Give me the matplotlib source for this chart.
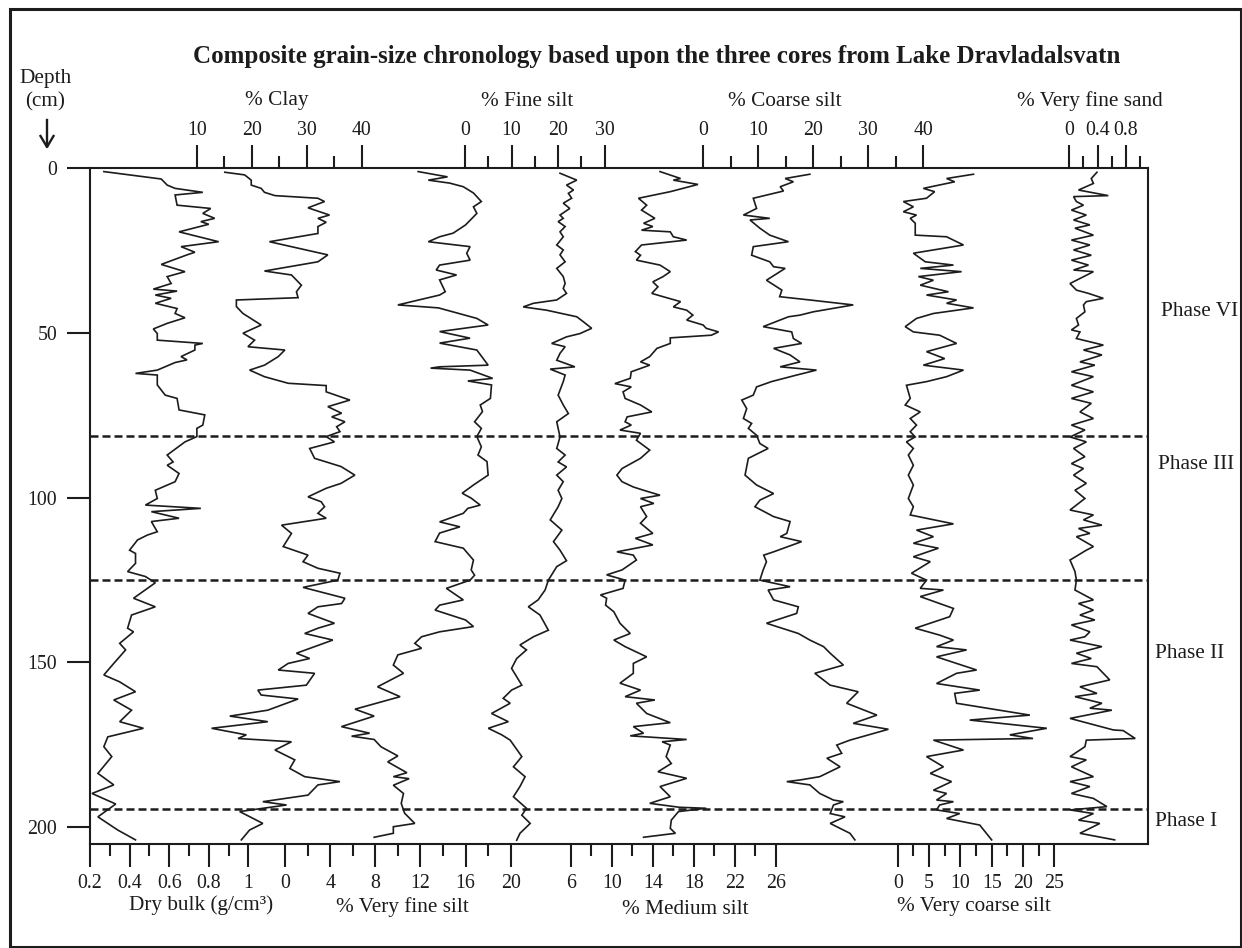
import matplotlib
matplotlib.use("Agg")
import matplotlib.pyplot as plt
from matplotlib.patches import Rectangle

plt.rcParams['font.family'] = ['Liberation Serif', 'DejaVu Serif']

# ---------------- data (depth in cm, values in series units) ----------------
bulk_depth = [1.0,3.25,5.1,6.1,7.3,8.1,11.2,12.2,13.7,15.2,16.2,17.0,19.3,22.3,23.8,25.5,26.3,29.2,31.4,32.9,
              35.0,36.7,37.3,38.5,39.5,41.0,42.6,44.1,45.4,47.1,48.8,50.2,52.2,53.2,53.7,55.2,57.2,58.2,59.0,61.3,
              62.3,62.8,65.8,68.9,69.9,73.4,74.9,78.0,79.0,81.5,83.1,87.1,89.2,90.2,92.7,95.2,97.8,100.3,102.3,103.3,
              104.3,106.3,107.3,110.4,111.4,112.9,116.0,117.0,120.0,122.5,124.0,125.9,130.6,133.2,135.7,139.7,140.8,
              144.3,146.3,150.4,153.9,156.0,159.0,161.5,164.6,168.1,170.1,172.7,175.7,178.7,183.8,187.3,189.9,193.1,
              197.0,201.0,204.0]
bulk_val = [0.27,0.56,0.59,0.63,0.77,0.63,0.64,0.81,0.77,0.83,0.76,0.80,0.65,0.85,0.66,0.73,0.69,0.56,0.68,0.59,
            0.61,0.52,0.64,0.53,0.61,0.53,0.64,0.63,0.68,0.59,0.52,0.54,0.54,0.77,0.73,0.73,0.66,0.69,0.63,0.54,
            0.43,0.54,0.54,0.58,0.64,0.65,0.78,0.77,0.74,0.74,0.68,0.59,0.62,0.59,0.65,0.63,0.53,0.54,0.48,0.76,
            0.51,0.65,0.51,0.54,0.49,0.44,0.40,0.43,0.43,0.39,0.48,0.53,0.42,0.53,0.41,0.39,0.42,
            0.35,0.38,0.32,0.27,0.35,0.43,0.32,0.41,0.35,0.47,0.29,0.27,0.31,0.24,0.32,0.21,0.33,
            0.24,0.34,0.43]

clay_depth = [1.2,2.0,3.6,5.1,6.1,7.3,8.3,9.1,10.1,12.0,14.2,15.2,16.4,17.7,19.8,22.3,26.3,28.4,31.2,32.4,35.5,
              37.5,39.3,40.0,42.0,44.1,47.6,50.1,52.2,54.2,55.2,57.2,59.8,61.3,63.3,65.3,66.0,67.9,70.4,72.4,74.4,
              75.5,77.0,78.5,80.0,81.5,83.1,85.1,88.1,90.6,93.2,95.7,97.2,99.8,101.3,102.8,104.8,106.3,108.4,110.9,
              114.9,117.5,119.5,121.5,123.0,125.1,127.3,130.6,132.2,133.2,135.2,138.2,139.7,141.3,143.3,147.3,148.9,
              150.4,152.4,153.4,157.0,158.5,160.0,161.2,164.6,166.4,168.1,170.1,172.1,173.2,174.2,176.7,179.7,182.3,
              184.8,186.3,187.3,190.4,192.4,193.4,195.4,199.0,201.0,204.0]
clay_val = [15.1,18.7,19.9,19.9,21.7,22.3,24.2,32.0,33.2,30.2,34.1,32.0,33.5,32.0,32.0,23.2,33.8,32.0,22.3,27.2,29.0,
            28.1,28.4,17.2,17.2,18.4,21.7,18.4,20.5,19.3,26.0,24.8,22.3,19.6,22.3,26.6,33.5,33.5,37.8,33.8,36.3,
            34.5,36.9,35.4,36.0,33.5,35.0,30.5,31.4,36.2,38.7,36.2,33.5,30.2,32.6,33.2,32.0,33.5,25.4,27.2,
            25.7,30.2,29.3,32.0,36.0,35.6,29.3,36.9,36.3,32.0,30.2,35.0,32.0,29.6,34.7,28.1,30.5,
            26.6,24.8,31.4,29.9,21.1,21.7,28.4,22.9,16.0,22.9,12.7,19.0,17.5,27.2,24.2,27.8,26.9,
            29.6,36.0,32.0,30.2,22.0,26.3,17.8,22.0,19.6,18.1]

vfsilt_depth = [1.0,2.6,3.6,4.5,5.6,7.5,10.1,11.7,13.7,17.2,19.7,20.8,22.3,23.8,25.8,27.9,29.4,30.9,32.4,33.9,37.5,
                38.5,41.5,42.4,45.6,47.6,49.6,51.6,53.1,55.2,59.8,60.3,60.7,61.3,63.8,64.6,65.8,69.9,71.9,73.9,77.0,
                79.0,81.5,84.6,87.1,89.1,93.2,96.2,98.7,100.2,102.3,103.3,104.8,107.4,108.9,110.8,113.4,115.4,119.0,
                122.0,123.6,125.1,127.6,131.1,132.7,134.2,137.2,139.2,140.8,142.3,144.3,145.8,147.8,150.9,153.4,157.5,
                160.5,164.3,166.4,169.6,171.6,172.5,173.5,175.7,178.5,180.3,183.6,184.8,185.4,187.4,189.9,192.9,195.9,
                199.0,200.0,202.0,203.2]
vfsilt_val = [11.8,14.4,12.7,14.6,15.8,16.7,17.4,16.7,17.0,16.0,14.9,13.7,12.7,16.4,16.1,16.4,13.7,13.4,15.2,13.7,14.2,
              13.7,10.0,13.6,17.0,18.0,13.7,16.4,13.7,17.0,18.0,13.7,12.9,16.4,18.4,16.2,18.3,18.2,17.3,17.5,16.8,
              17.4,17.0,17.4,17.1,17.9,18.0,16.7,15.7,16.5,17.3,16.2,15.8,13.7,15.5,13.7,13.3,15.8,16.7,
              16.5,16.8,16.4,14.3,15.8,13.7,13.3,16.0,16.7,13.7,12.1,11.5,12.1,10.0,9.6,10.5,8.2,
              10.2,6.2,7.9,5.0,7.5,5.9,7.9,8.5,10.0,9.1,10.8,9.6,11.0,9.6,10.5,10.3,10.6,
              11.5,9.6,9.6,7.9]

fsilt_depth = [1.5,3.6,5.1,6.6,7.6,9.1,10.6,12.2,14.2,15.2,16.2,17.7,19.3,20.8,23.3,24.8,26.3,28.4,30.4,32.9,35.0,
               36.5,38.0,40.0,41.0,42.1,43.1,45.1,46.6,48.6,50.2,51.2,53.2,54.2,56.2,58.3,60.3,61.0,62.8,64.8,68.9,
               71.9,74.5,77.0,81.6,85.1,87.1,89.2,90.7,93.2,95.2,97.8,100.3,102.8,106.8,109.9,113.4,116.0,119.2,121.0,
               125.1,128.1,131.1,133.2,135.7,140.3,142.3,144.8,146.3,148.9,151.9,157.0,158.5,161.0,162.5,165.6,168.1,
               170.1,172.1,173.7,175.7,178.7,181.8,184.8,187.8,190.9,194.4,196.5,199.0,202.0,204.1]
fsilt_val = [20.4,24.0,21.8,23.3,22.2,22.9,21.1,22.5,20.4,21.1,20.0,21.5,20.4,21.1,19.7,21.1,20.4,21.5,19.7,21.1,21.5,
             21.1,21.8,19.7,14.7,12.5,17.5,24.0,25.4,27.2,24.7,21.8,18.6,21.5,20.4,19.7,23.6,18.3,21.5,21.1,20.0,
             21.1,22.2,19.7,20.4,19.7,21.5,20.0,21.8,19.7,21.1,20.0,20.8,20.0,18.3,20.8,19.0,20.4,21.8,19.7,
             17.9,17.2,15.7,13.6,16.1,17.9,14.7,11.8,13.2,11.1,10.0,12.2,10.0,8.2,9.7,5.7,9.3,
             5.0,7.9,9.7,10.7,12.2,10.4,12.9,11.8,10.4,13.2,12.2,14.0,11.8,11.1]

msilt_depth = [1.0,3.1,3.6,4.9,7.1,9.1,11.2,12.7,15.2,16.7,17.7,18.8,19.3,20.8,21.8,23.3,25.3,26.4,27.9,29.4,31.4,
               32.9,34.5,36.0,38.0,39.0,40.5,42.1,43.1,44.6,46.1,47.6,48.6,49.7,50.7,51.5,53.2,54.7,57.2,58.8,59.8,
               61.8,63.8,65.4,66.4,67.9,69.9,71.9,74.0,75.5,77.0,78.0,79.5,80.5,82.6,85.6,88.1,91.2,93.2,95.2,96.8,
               97.8,99.3,100.3,101.8,102.8,105.8,107.8,110.9,112.4,114.4,116.5,117.5,119.0,122.0,123.5,125.1,127.6,
               129.6,130.6,132.7,134.7,138.2,141.3,143.3,145.3,148.4,150.4,153.4,156.4,158.5,160.5,161.5,162.5,165.6,
               168.4,169.6,171.6,172.4,173.5,174.2,175.2,178.7,180.8,183.3,185.3,187.8,190.9,192.9,194.1,194.4,195.4,
               198.0,200.5,202.0,203.2]
msilt_val = [14.7,16.7,16.0,18.4,15.7,12.6,13.4,12.9,14.2,13.1,14.0,12.9,15.7,16.0,17.3,12.9,12.3,12.8,12.4,14.7,15.7,
             15.0,14.0,14.5,13.9,15.0,16.7,16.0,17.3,17.9,17.3,18.9,19.2,20.4,19.7,15.7,15.7,14.4,13.7,12.8,13.7,
             11.9,11.8,10.3,11.9,11.1,11.3,12.8,13.9,11.5,11.3,11.9,10.8,12.8,12.4,13.7,12.8,11.0,10.5,11.0,12.1,
             13.1,14.7,12.8,14.1,12.8,13.4,12.8,14.0,12.3,14.0,10.5,12.1,12.4,11.0,9.5,11.3,11.1,
             8.9,9.5,9.4,10.2,10.8,11.8,10.2,11.3,13.4,12.1,12.1,10.8,12.8,11.3,14.2,12.4,13.4,
             15.7,12.1,13.1,11.8,17.3,14.9,15.7,15.3,15.8,14.5,17.3,14.7,15.7,13.7,16.6,19.2,16.5,
             15.8,15.7,16.2,13.1]

csilt_depth = [1.8,3.1,4.1,5.6,6.9,9.1,12.2,14.2,15.2,15.7,18.2,20.3,22.3,23.8,26.4,28.4,29.9,30.4,34.0,37.0,39.0,
               40.0,41.5,43.6,44.6,45.1,48.1,49.7,51.7,53.2,54.7,56.7,58.8,60.3,61.3,62.8,64.8,66.4,68.9,70.4,73.0,
               76.0,77.5,79.0,81.1,83.6,85.1,88.1,93.2,96.2,98.8,100.8,102.8,105.8,107.3,110.9,111.9,113.4,116.5,
               117.5,119.5,122.0,125.1,127.1,128.1,131.1,133.2,135.2,138.2,141.3,143.3,145.3,147.3,150.9,153.4,157.0,
               159.0,162.5,166.1,168.6,170.4,173.7,175.2,177.7,179.2,181.8,184.8,185.8,186.3,187.3,189.9,191.9,192.4,
               193.4,196.0,197.0,199.0,202.0,204.0]
csilt_val = [19.4,14.9,16.4,14.0,14.6,9.1,9.7,7.3,12.1,8.5,10.3,12.1,15.5,9.1,8.8,12.1,12.8,14.9,11.5,14.3,13.9,
             19.4,27.3,20.0,17.6,15.5,10.9,16.1,16.4,17.9,12.8,15.8,17.6,14.0,20.6,17.0,12.4,9.7,9.1,7.0,7.9,
             7.3,8.8,8.2,9.7,10.3,11.8,8.2,7.6,9.7,12.8,10.3,9.4,12.8,15.8,15.2,14.0,17.9,12.8,
             11.0,11.5,10.9,10.3,15.8,11.8,12.8,17.3,17.0,11.5,17.3,19.4,21.9,23.1,25.5,20.3,23.1,
             28.2,26.1,31.6,27.3,33.7,26.7,24.3,25.2,22.5,24.9,21.2,17.6,15.2,19.4,21.2,23.7,25.5,
             23.7,23.1,25.8,23.1,26.7,27.6]

vcsilt_depth = [1.8,3.1,4.1,6.1,7.1,9.1,10.1,11.7,13.2,14.2,15.2,16.7,20.3,20.8,23.3,25.8,28.4,29.4,30.4,31.4,32.9,
                34.0,35.5,37.5,38.5,40.0,41.0,42.4,44.1,45.6,48.1,49.7,50.7,53.2,55.7,57.8,59.8,61.3,63.3,64.8,65.9,
                69.9,71.9,74.0,76.0,78.0,80.0,81.6,83.1,85.1,87.1,90.2,93.2,96.2,100.3,102.8,105.3,108.0,109.9,111.9,
                113.9,115.4,118.0,119.5,123.0,125.1,127.6,128.1,130.1,133.7,136.2,139.7,141.8,143.3,145.3,146.3,148.4,
                152.4,153.4,156.5,158.5,159.5,162.5,166.1,167.6,170.1,172.1,173.2,173.7,176.7,178.7,181.8,183.8,186.3,
                188.9,189.9,191.9,192.4,193.4,194.9,196.0,197.5,199.5,204.0]
vcsilt_val = [12.1,7.8,9.1,4.1,5.9,4.6,0.9,2.5,0.9,3.0,2.0,2.8,2.8,7.8,10.5,2.5,4.4,8.9,3.6,10.2,3.3,
              5.7,3.6,8.1,4.6,9.4,7.8,12.1,5.7,3.0,1.2,2.5,6.7,9.4,4.6,7.5,4.1,10.5,7.8,4.6,1.4,
              2.0,1.2,3.6,2.0,3.0,2.0,2.8,1.4,2.5,1.7,2.5,1.7,2.5,1.7,2.5,2.0,8.9,3.0,5.7,
              2.5,6.5,2.5,5.2,2.2,4.6,3.6,7.3,3.6,8.9,8.3,2.8,6.7,8.9,6.2,11.0,6.2,
              12.6,9.4,6.2,13.1,9.1,9.4,21.1,11.5,23.8,17.9,21.6,5.7,10.5,4.6,7.3,5.2,8.6,
              5.7,7.8,6.2,8.9,6.7,6.2,9.9,7.8,13.1,15.0]

vfsand_depth = [1.2,3.1,4.6,6.6,8.3,8.6,10.1,11.2,12.7,14.2,15.7,17.2,18.2,20.3,21.8,23.3,24.8,26.4,27.9,29.4,30.9,
                31.4,35.0,37.0,38.0,39.5,40.5,41.5,43.6,45.6,47.6,49.1,49.7,51.7,53.7,55.2,56.7,58.8,59.8,61.8,63.3,
                65.9,67.9,69.9,71.4,74.0,76.0,78.0,79.5,81.6,83.1,85.1,87.6,89.7,91.2,93.2,95.7,97.8,100.3,103.8,105.3,
                106.8,108.4,109.4,110.9,111.9,114.9,116.0,119.0,122.5,125.1,128.1,131.1,132.2,134.2,135.7,137.2,138.7,
                140.8,142.3,143.3,145.3,147.3,148.9,150.4,151.4,155.4,157.5,159.5,160.5,162.5,164.0,164.6,167.1,170.6,
                170.8,173.2,173.7,175.7,178.7,179.7,181.8,184.8,186.3,187.8,189.9,191.4,193.9,194.9,196.0,198.0,199.0,
                202.0,204.0]
vfsand_val = [0.39,0.31,0.34,0.13,0.55,0.06,0.10,0.20,0.03,0.24,0.06,0.29,0.08,0.34,0.03,0.29,0.06,0.31,0.03,0.27,0.06,
              0.34,0.01,0.10,0.27,0.48,0.24,0.20,0.22,0.10,0.13,0.03,0.15,0.10,0.48,0.20,0.46,0.15,0.36,0.03,0.34,
              0.03,0.34,0.03,0.31,0.15,0.34,0.03,0.22,0.01,0.24,0.06,0.22,0.03,0.20,0.06,0.24,0.08,0.22,0.01,0.34,
              0.20,0.46,0.13,0.29,0.10,0.34,0.24,0.01,0.08,0.10,0.08,0.34,0.13,0.34,0.15,0.36,0.03,
              0.29,0.22,0.01,0.46,0.10,0.31,0.03,0.39,0.57,0.15,0.39,0.08,0.46,0.29,0.60,0.01,0.62,
              0.76,0.93,0.24,0.22,0.01,0.24,0.03,0.34,0.01,0.29,0.03,0.34,0.53,0.01,0.34,0.13,0.43,
              0.15,0.64]

# tick labels
depth_ticks = [0, 50, 100, 150, 200]
bulk_ticks = [0.2, 0.4, 0.6, 0.8, 1.0]
bulk_ticklabels = ["0.2", "0.4", "0.6", "0.8", "1"]
bulk_minor = [0.3, 0.5, 0.7, 0.9]
clay_ticks = [10, 20, 30, 40]
clay_minor = [15, 25, 35]
vfsilt_ticks = [0, 4, 8, 12, 16, 20]
vfsilt_minor = [2, 6, 10, 14, 18]
fsilt_ticks = [0, 10, 20, 30]
fsilt_minor = [5, 15, 25]
msilt_ticks = [6, 10, 14, 18, 22, 26]
msilt_minor = [8, 12, 16, 20, 24]
csilt_ticks = [0, 10, 20, 30, 40]
csilt_minor = [5, 15, 25, 35]
vcsilt_ticks = [0, 5, 10, 15, 20, 25]
vcsilt_minor = [2.5, 7.5, 12.5, 17.5, 22.5]
vfsand_ticks = [0, 0.4, 0.8]
vfsand_ticklabels = ["0", "0.4", "0.8"]
vfsand_minor = [0.2, 0.6, 1.0]
phase_bounds = [81.4, 125.1, 194.5]

# ---------------- layout ----------------
W, H = 1242, 948
fig = plt.figure(figsize=(W / 100, H / 100), dpi=100)
INK = '#1c1c1c'
TICK_FS = 14.3
LABEL_FS = 15.3

def fx(px):
    return px / W

def fy(py):
    return 1 - py / H

BL, BR, BT, BB = 90.0, 1148.3, 168.3, 844.0
rect = [fx(BL), fy(BB), (BR - BL) / W, (BB - BT) / H]
ax = fig.add_axes(rect, label='main')
ax.set_xlim(0, 1)
ax.set_ylim(205.25, 0)
ax.set_xticks([])
ax.set_yticks(depth_ticks)
ax.set_yticklabels([str(t) for t in depth_ticks])
ax.tick_params(axis='y', length=16.5, width=1.5, pad=7, labelsize=TICK_FS, colors=INK)
for sp in ax.spines.values():
    sp.set_linewidth(1.5)
    sp.set_color(INK)
ax.patch.set_visible(False)

for d in phase_bounds:
    ax.axhline(d, color=INK, lw=1.8, ls=(0, (3.2, 1.6)), zorder=3)

MAJ, MIN = 16.5, 8.5

def overlay(name, depth, val, v0, p0, scale, major, minor, labels, side):
    a = fig.add_axes(rect, sharey=ax, label=name)
    a.patch.set_visible(False)
    for sp in a.spines.values():
        sp.set_visible(False)
    a.set_xlim(v0 + (BL - p0) / scale, v0 + (BR - p0) / scale)
    a.tick_params(axis='y', left=False, right=False, labelleft=False, labelright=False)
    a.plot(val, depth, color=INK, lw=1.2, solid_joinstyle='miter')
    a.set_xticks(major)
    a.set_xticklabels(labels)
    a.set_xticks(minor, minor=True)
    top = side == 'top'
    a.tick_params(axis='x', which='both', top=top, bottom=not top, labeltop=top,
                  labelbottom=not top, direction='out', width=1.5, colors=INK)
    a.tick_params(axis='x', which='major', length=MAJ, labelsize=TICK_FS, pad=4 if top else 5)
    a.tick_params(axis='x', which='minor', length=MIN)
    return a

overlay('bulk', bulk_depth, bulk_val, 0.2, 90.0, 197.9, bulk_ticks, bulk_minor, bulk_ticklabels, 'bottom')
overlay('clay', clay_depth, clay_val, 10, 196.7, 5.51, clay_ticks, clay_minor, [str(t) for t in clay_ticks], 'top')
overlay('vfsilt', vfsilt_depth, vfsilt_val, 0, 285.0, 11.285, vfsilt_ticks, vfsilt_minor, [str(t) for t in vfsilt_ticks], 'bottom')
overlay('fsilt', fsilt_depth, fsilt_val, 0, 465.0, 4.657, fsilt_ticks, fsilt_minor, [str(t) for t in fsilt_ticks], 'top')
overlay('msilt', msilt_depth, msilt_val, 6, 570.7, 10.265, msilt_ticks, msilt_minor, [str(t) for t in msilt_ticks], 'bottom')
overlay('csilt', csilt_depth, csilt_val, 0, 703.3, 5.4925, csilt_ticks, csilt_minor, [str(t) for t in csilt_ticks], 'top')
overlay('vcsilt', vcsilt_depth, vcsilt_val, 0, 897.7, 6.264, vcsilt_ticks, vcsilt_minor, [str(t) for t in vcsilt_ticks], 'bottom')
overlay('vfsand', vfsand_depth, vfsand_val, 0, 1069.3, 70.9, vfsand_ticks, vfsand_minor, vfsand_ticklabels, 'top')

def txt(px, py, s, size=LABEL_FS, ha='center', va='center', **kw):
    fig.text(fx(px), fy(py), s, fontsize=size, ha=ha, va=va, color=INK, **kw)

txt(657, 56, "Composite grain-size chronology based upon the three cores from Lake Dravladalsvatn",
    size=18, fontweight='bold')
txt(46, 78, "Depth")
txt(45, 102, "(cm)")
fig.add_artist(plt.Line2D([fx(47), fx(47)], [fy(120), fy(146)], color=INK, lw=1.7))
fig.add_artist(plt.Line2D([fx(40.5), fx(47), fx(53.5)], [fy(136), fy(147), fy(136)], color=INK, lw=1.7))

txt(277, 101, "% Clay")
txt(527, 101, "% Fine silt")
txt(785, 101, "% Coarse silt")
txt(1090, 101, "% Very fine sand")
txt(201, 905, "Dry bulk (g/cm\u00b3)")
txt(402, 907, "% Very fine silt")
txt(685, 909, "% Medium silt")
txt(974, 906, "% Very coarse silt")

txt(1161, 312, "Phase VI", ha='left')
txt(1158, 465, "Phase III", ha='left')
txt(1155, 653, "Phase II", ha='left')
txt(1155, 822, "Phase I", ha='left')

fig.add_artist(Rectangle((fx(10), fy(947)), (1241 - 10) / W, (947 - 9) / H, fill=False,
                         edgecolor=INK, lw=2.2, transform=fig.transFigure))

fig.savefig("out.png", dpi=100)
